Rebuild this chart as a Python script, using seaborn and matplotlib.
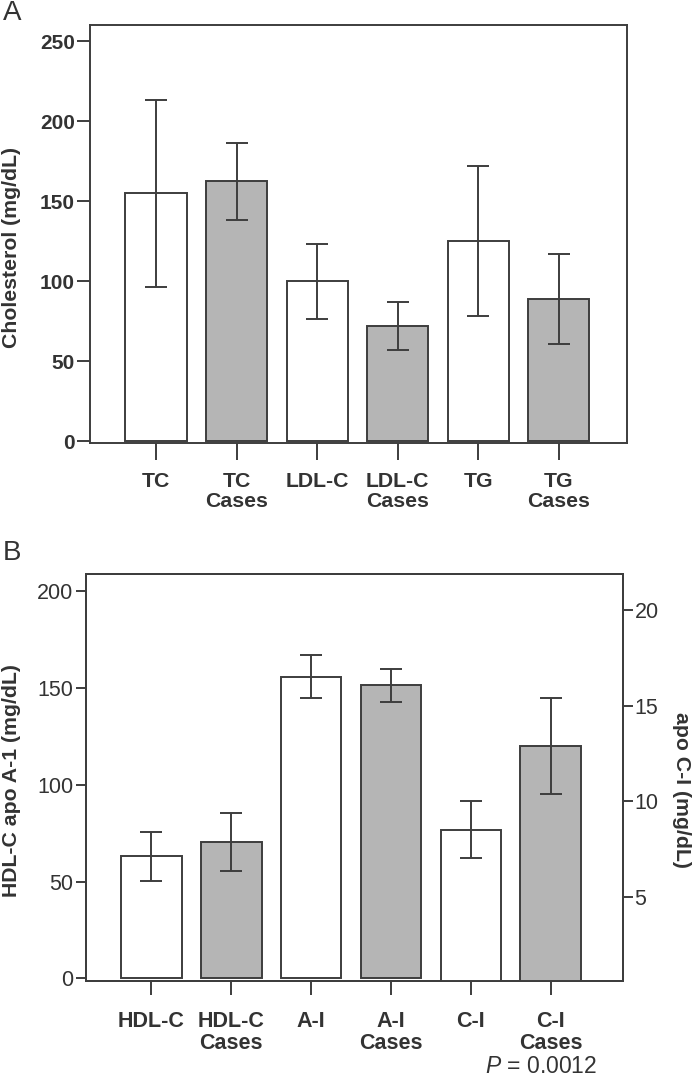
import matplotlib
matplotlib.use('Agg')
import matplotlib.pyplot as plt
import seaborn as sns

# panel A: lipids
a_cats = ['TC', 'TC\nCases', 'LDL-C', 'LDL-C\nCases', 'TG', 'TG\nCases']
a_vals = [155, 162.5, 100, 72, 125, 89]
a_errs = [58.5, 24, 23.5, 15, 47, 28]

# panel B: HDL-C / apo A-I on left axis, apo C-I on right axis
b_cats = ['HDL-C', 'HDL-C\nCases', 'A-I', 'A-I\nCases', 'C-I', 'C-I\nCases']
b_left_cats = ['HDL-C', 'HDL-C\nCases', 'A-I', 'A-I\nCases']
b_left_vals = [63, 70.5, 156, 151.5]
b_left_errs = [12.5, 15, 11, 8.5]
b_right_cats = ['C-I', 'C-I\nCases']
b_right_vals = [8.5, 12.9]
b_right_errs = [1.5, 2.5]

sns.set_style('ticks')
plt.rcParams['font.family'] = ['Liberation Sans', 'DejaVu Sans']
plt.rcParams['mathtext.fontset'] = 'custom'
plt.rcParams['mathtext.it'] = 'Liberation Sans:italic'
plt.rcParams['mathtext.rm'] = 'Liberation Sans'

TXT = '#333333'
EDGE = '#3d3d3d'
GREY = '#b5b5b5'
LW = 1.4
FS = 15.3


def bar_colors(cats):
    return {c: (GREY if 'Cases' in c else 'white') for c in cats}


def draw_bars(ax, cats, vals, errs, order):
    sns.barplot(x=cats, y=vals, hue=cats, palette=bar_colors(cats), order=order,
                legend=False, width=0.76, edgecolor=EDGE, linewidth=LW, ax=ax)
    pos = [order.index(c) for c in cats]
    ax.errorbar(pos, vals, yerr=errs, fmt='none', ecolor=EDGE, elinewidth=LW,
                capsize=8, capthick=LW, zorder=5)


def frame(ax):
    for s in ax.spines.values():
        s.set_visible(True)
        s.set_linewidth(LW)
        s.set_color(EDGE)


fig = plt.figure(figsize=(6.94, 10.78), dpi=100)

# ---- A ----
axA = fig.add_axes([0.1297, 0.5888, 0.7742, 0.3880])
draw_bars(axA, a_cats, a_vals, a_errs, a_cats)
frame(axA)
axA.set_xlim(-0.82, 5.85)
axA.set_ylim(-1.4, 260.3)
axA.set_yticks([0, 50, 100, 150, 200, 250])
axA.set_xticks(range(6))
axA.set_xticklabels(a_cats, fontsize=FS, fontweight='bold', color=TXT, linespacing=1.08)
for t in axA.get_yticklabels():
    t.set_fontsize(15); t.set_fontweight('bold'); t.set_color(TXT)
axA.tick_params(axis='x', length=12, width=LW, color=EDGE, pad=8.5)
axA.tick_params(axis='y', length=9.5, width=LW, color=EDGE, pad=1.5)
axA.set_ylabel('Cholesterol (mg/dL)', fontsize=FS, fontweight='bold', color=TXT)
axA.yaxis.set_label_coords(-0.128, 0.469)
axA.set_xlabel('')

# ---- B ----
axB = fig.add_axes([0.1235, 0.0903, 0.7738, 0.3772])
draw_bars(axB, b_left_cats, b_left_vals, b_left_errs, b_cats)
axB2 = axB.twinx()
draw_bars(axB2, b_right_cats, b_right_vals, b_right_errs, b_cats)
frame(axB)
frame(axB2)
axB.set_xlim(-0.82, 5.9)
axB2.set_xlim(-0.82, 5.9)
axB.set_ylim(-1.2, 209)
axB2.set_ylim(0.6, 21.9)
axB.set_yticks([0, 50, 100, 150, 200])
axB2.set_yticks([5, 10, 15, 20])
axB.set_xticks(range(6))
axB.set_xticklabels(b_cats, fontsize=15.5, fontweight='bold', color=TXT, linespacing=1.08)
for t in axB.get_yticklabels() + axB2.get_yticklabels():
    t.set_fontsize(15.5); t.set_color(TXT)
axB.tick_params(axis='x', length=10, width=LW, color=EDGE, pad=11.5)
axB.tick_params(axis='y', length=7, width=LW, color=EDGE, pad=2)
axB2.tick_params(axis='y', length=7, width=LW, color=EDGE, pad=1.5)
axB2.tick_params(axis='x', length=0)
axB.set_ylabel('HDL-C apo A-1 (mg/dL)', fontsize=FS, fontweight='bold', color=TXT)
axB.yaxis.set_label_coords(-0.12, 0.493)
axB2.set_ylabel('apo C-I (mg/dL)', fontsize=FS, fontweight='bold', color=TXT,
                rotation=270)
axB2.yaxis.set_label_coords(1.128, 0.47)
axB.set_xlabel('')
axB2.set_xlabel('')

fig.text(541 / 694, 0.0045, r'$\it{P}$ = 0.0012', fontsize=16.5, color=TXT,
         ha='center', va='baseline')

fig.text(3 / 694, 1.0, 'A', fontsize=20, color=TXT, ha='left', va='top')
fig.text(3 / 694, 0.499, 'B', fontsize=20, color=TXT, ha='left', va='top')

fig.savefig('out.png', dpi=100)
